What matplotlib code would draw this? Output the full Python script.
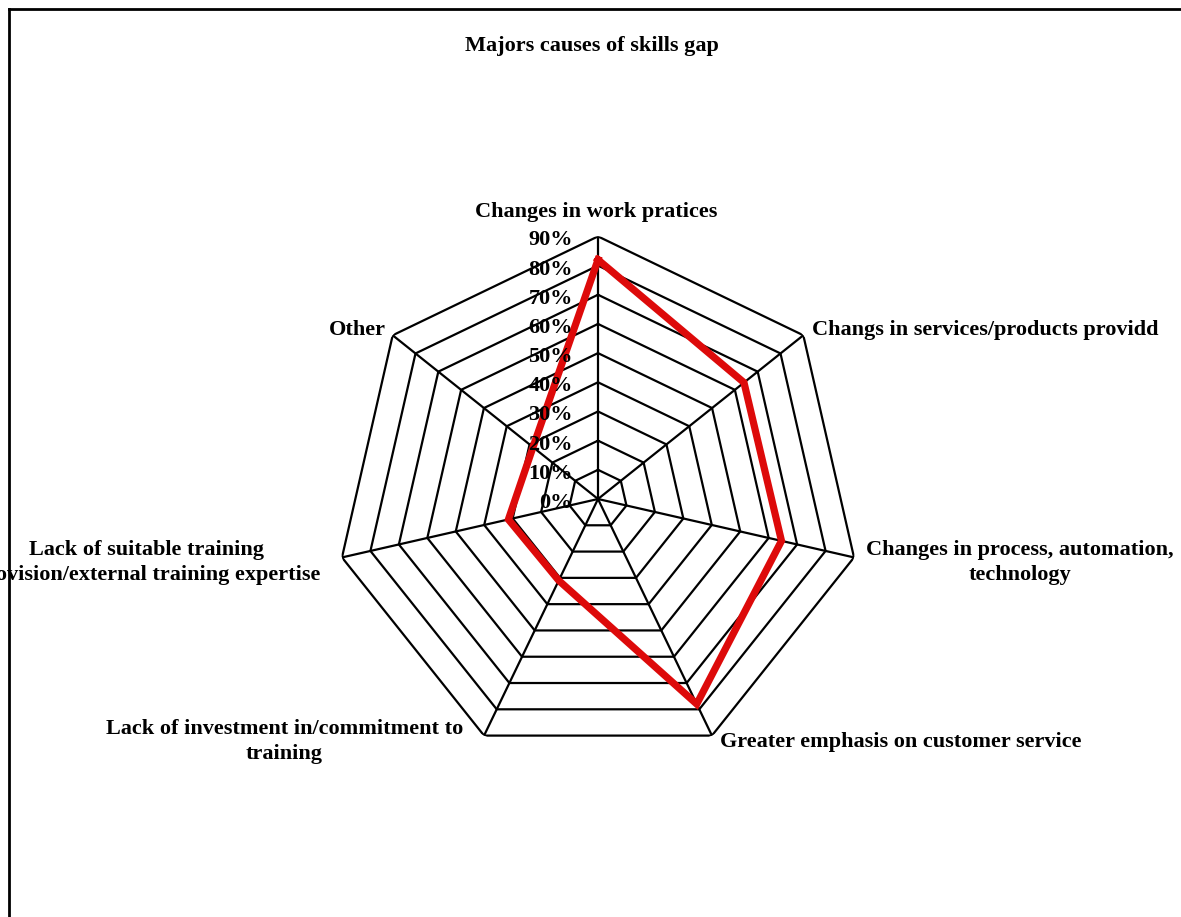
import numpy as np
import matplotlib
matplotlib.use("Agg")
import matplotlib.pyplot as plt
from matplotlib.lines import Line2D

plt.rcParams['font.family'] = ['Liberation Serif', 'DejaVu Serif']

title = "Majors causes of skills gap"
categories = [
    "Changes in work pratices",
    "Changs in services/products providd",
    "Changes in process, automation,\ntechnology",
    "Greater emphasis on customer service",
    "Lack of investment in/commitment to\ntraining",
    "Lack of suitable training\nprovision/external training expertise",
    "Other",
]
values = [82, 64, 64.5, 78, 31, 31.5, 28.5]
ring_values = [10, 20, 30, 40, 50, 60, 70, 80, 90]
tick_labels = ["0%", "10%", "20%", "30%", "40%", "50%", "60%", "70%", "80%", "90%"]
tick_values = [0, 10, 20, 30, 40, 50, 60, 70, 80, 90]

W, H = 1181, 917
fig = plt.figure(figsize=(W / 100, H / 100), dpi=100)
fig.patch.set_facecolor("white")

cx, cy, R = 598, 499, 262.6
ax = fig.add_axes([(cx - R) / W, (H - cy - R) / H, 2 * R / W, 2 * R / H], projection="polar")
ax.set_theta_offset(np.pi / 2)
ax.set_theta_direction(-1)
ax.set_ylim(0, 90)
ax.grid(False)
ax.spines["polar"].set_visible(False)
ax.set_xticks([])
ax.set_yticks([])
ax.patch.set_alpha(0)

n = len(categories)
theta = np.arange(n) * 2 * np.pi / n
theta_closed = np.append(theta, theta[0])

# polygon rings
for r in ring_values:
    ax.plot(theta_closed, [r] * (n + 1), color="black", lw=1.6, solid_joinstyle="miter", zorder=1)
# spokes
for t in theta:
    ax.plot([t, t], [0, 90], color="black", lw=1.6, zorder=1)

# data series
vals_closed = values + [values[0]]
ax.plot(theta_closed, vals_closed, color="#DD0A0A", lw=5.2, solid_joinstyle="miter", zorder=3)

# radial tick labels
for v, lab in zip(tick_values, tick_labels):
    ax.annotate(lab, xy=(0, v), xytext=(-25, -4), textcoords="offset pixels",
                ha="right", va="center", fontsize=16, fontweight="bold", zorder=4,
                annotation_clip=False)

# category labels (offset in pixels from 90% vertex)
label_style = [
    ((-2, 24), "center", "center"),
    ((9, 5), "left", "center"),
    ((12, -5), "left", "center"),
    ((8, -6), "left", "center"),
    ((-21, -6), "right", "center"),
    ((-22, -5), "right", "center"),
    ((-7, 5), "right", "center"),
]
for t, lab, (off, ha, va) in zip(theta, categories, label_style):
    ax.annotate(lab, xy=(t, 90), xytext=off, textcoords="offset pixels",
                ha=ha, va=va, multialignment="center", fontsize=16, fontweight="bold",
                annotation_clip=False, linespacing=1.3)

fig.text(592 / W, 1 - 46 / H, title, ha="center", va="center", fontsize=16, fontweight="bold")

# frame
fig.add_artist(Line2D([9 / W, 1], [1 - 9 / H, 1 - 9 / H], color="black", lw=2, transform=fig.transFigure))
fig.add_artist(Line2D([9 / W, 9 / W], [0, 1 - 9 / H], color="black", lw=2, transform=fig.transFigure))

fig.savefig("out.png", dpi=100, facecolor="white")
